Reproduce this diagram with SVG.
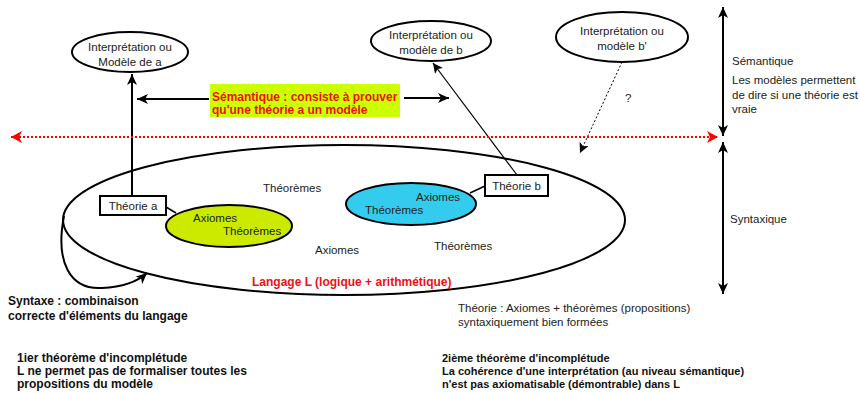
<svg xmlns="http://www.w3.org/2000/svg" width="860" height="393" viewBox="0 0 860 393">
<style>
text{font-family:"Liberation Sans",Arial,sans-serif;font-size:11.5px;fill:#222}
.b{font-weight:bold;fill:#111;font-size:11px}
.bl{font-weight:bold;fill:#111;font-size:12px}
.r{font-weight:bold;fill:#ee1111;font-size:12px}
.m{text-anchor:middle}
.node{fill:#fff;stroke:#000;stroke-width:2}
.ln{fill:none;stroke:#000;stroke-width:2}
</style>
<defs>
<marker id="ah" markerUnits="userSpaceOnUse" markerWidth="12" markerHeight="10" refX="11" refY="5" orient="auto-start-reverse"><path d="M0,0 L11,5 L0,10 L3,5 z" fill="#000"/></marker>
<marker id="ahs" markerUnits="userSpaceOnUse" markerWidth="11" markerHeight="10" refX="10" refY="5" orient="auto-start-reverse"><path d="M0,0 L10,5 L0,10 L2.5,5 z" fill="#000"/></marker>
<marker id="ahr" markerUnits="userSpaceOnUse" markerWidth="12" markerHeight="12" refX="11" refY="6" orient="auto-start-reverse"><path d="M0,0 L11,6 L0,12 L3,6 z" fill="#ff0000"/></marker>
</defs>

<g id="langage">
<ellipse cx="344" cy="220" rx="281" ry="75" class="ln"/>
<text x="252" y="286" class="r">Langage L (logique + arithmétique)</text>
<text x="263" y="192">Théorèmes</text>
<text x="315" y="254">Axiomes</text>
<text x="434" y="250">Théorèmes</text>
</g>

<g id="connectors">
<line x1="132" y1="196" x2="132" y2="74" class="ln" marker-end="url(#ah)"/>
<line x1="517" y1="175" x2="433" y2="63" stroke="#000" stroke-width="1.2" marker-end="url(#ahs)"/>
<line x1="622" y1="62" x2="580" y2="153" stroke="#000" stroke-width="1" stroke-dasharray="2,2" marker-end="url(#ahs)"/>
<line x1="209" y1="99" x2="137" y2="99" class="ln" marker-end="url(#ah)"/>
<line x1="404" y1="98" x2="449" y2="98" class="ln" marker-end="url(#ah)"/>
<line x1="11" y1="137" x2="718" y2="137" stroke="#ff0000" stroke-width="2" stroke-dasharray="2,2" marker-start="url(#ahr)" marker-end="url(#ahr)"/>
<line x1="723" y1="7" x2="723" y2="136" class="ln" marker-start="url(#ah)" marker-end="url(#ah)"/>
<line x1="723" y1="142" x2="723" y2="294" class="ln" marker-start="url(#ah)" marker-end="url(#ah)"/>
<path d="M64 216 C55 262 70 290 102 288 C122 287 136 283 147 273" class="ln" marker-end="url(#ah)"/>
<line x1="166" y1="207" x2="176" y2="213" stroke="#000" stroke-width="1.5"/>
<line x1="470" y1="193" x2="485" y2="186" stroke="#000" stroke-width="1.5"/>
</g>

<g id="modele-a">
<ellipse cx="130" cy="52" rx="58" ry="20" class="node"/>
<text x="130" y="51" class="m">Interprétation ou</text>
<text x="130" y="66" class="m">Modèle de a</text>
</g>

<g id="modele-b">
<ellipse cx="431" cy="41" rx="60" ry="20" class="node"/>
<text x="431" y="39" class="m">Interprétation ou</text>
<text x="431" y="54" class="m">modèle de b</text>
</g>

<g id="modele-b-prime">
<ellipse cx="622" cy="37" rx="66" ry="25" class="node"/>
<text x="622" y="35" class="m">Interprétation ou</text>
<text x="622" y="50" class="m">modèle b'</text>
</g>
<text x="625" y="102">?</text>

<g id="semantique-label">
<rect x="210" y="84" width="190" height="33" fill="#ccff00"/>
<text x="212" y="101" class="r">Sémantique : consiste à prouver</text>
<text x="212" y="114" class="r">qu'une théorie a un modèle</text>
</g>

<g id="theorie-a">
<rect x="100" y="196" width="66" height="19" class="node"/>
<text x="133" y="210" class="m">Théorie a</text>
</g>

<g id="ensemble-a">
<ellipse cx="229" cy="226" rx="63" ry="21" fill="#ccea00" stroke="#000" stroke-width="2"/>
<text x="193" y="222">Axiomes</text>
<text x="223" y="235">Théorèmes</text>
</g>

<g id="theorie-b">
<rect x="485" y="175" width="63" height="21" class="node"/>
<text x="516.5" y="190" class="m">Théorie b</text>
</g>

<g id="ensemble-b">
<ellipse cx="411" cy="204" rx="65" ry="21" fill="#33ccee" stroke="#000" stroke-width="2"/>
<text x="416" y="201">Axiomes</text>
<text x="365" y="214">Théorèmes</text>
</g>

<g id="legende-droite">
<text x="732" y="65">Sémantique</text>
<text x="732" y="84">Les modèles permettent</text>
<text x="732" y="99">de dire si une théorie est</text>
<text x="732" y="113">vraie</text>
<text x="730" y="223">Syntaxique</text>
</g>

<g id="notes">
<text x="8" y="305" class="bl">Syntaxe : combinaison</text>
<text x="8" y="320" class="bl">correcte d'éléments du langage</text>
<text x="458" y="312">Théorie : Axiomes +  théorèmes (propositions)</text>
<text x="458" y="326">syntaxiquement bien formées</text>
<text x="17" y="362" class="bl">1ier théorème d'incomplétude</text>
<text x="17" y="375" class="bl">L ne permet pas de formaliser toutes les</text>
<text x="17" y="388" class="bl">propositions du modèle</text>
<text x="442" y="362" class="b">2ième théorème d'incomplétude</text>
<text x="442" y="375" class="b">La cohérence d'une interprétation (au niveau sémantique)</text>
<text x="442" y="388" class="b">n'est pas axiomatisable (démontrable) dans L</text>
</g>
</svg>
